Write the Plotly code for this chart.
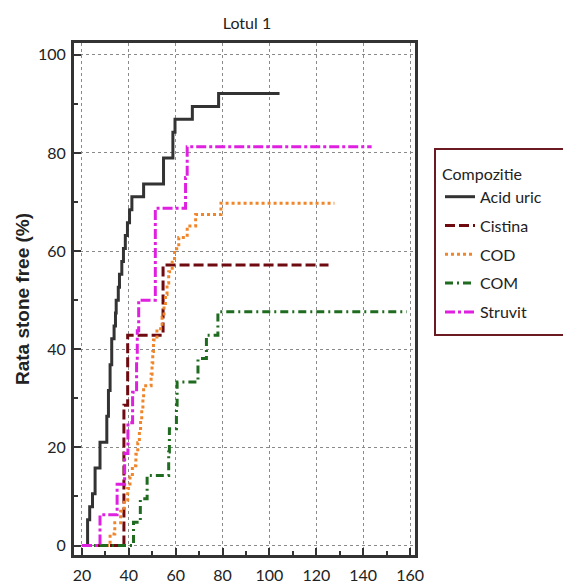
import plotly.graph_objects as go

# ---- data (time, cumulative stone-free rate %) ----
acid_uric_x = [20, 22.4, 23.3, 24.5, 25.6, 27.7, 30.6, 31.3, 32.0, 32.7, 33.7, 34.3, 34.6, 35.5, 36.0,
               37.0, 37.7, 38.5, 39.4, 40.3, 41.3, 46.3, 54.8, 58.8, 59.7, 67.1, 78.3, 104.3]
acid_uric_y = [0, 5.26, 7.89, 10.53, 15.79, 21.05, 26.32, 31.58, 36.84, 42.11, 44.74, 47.37, 50.0, 52.63, 55.26,
               57.89, 60.53, 63.16, 65.79, 68.42, 71.05, 73.68, 78.95, 84.21, 86.84, 89.47, 92.11, 92.11]

cistina_x = [20, 37.9, 39.5, 54.6, 125.2]
cistina_y = [0, 28.57, 42.86, 57.14, 57.14]

cod_x = [20, 32.0, 34.0, 36.5, 38.0, 39.5, 40.5, 41.5, 43.0, 43.8, 44.5, 45.0, 45.5, 46.0, 46.3,
         49.5, 49.9, 50.2, 50.5, 52.0, 54.2, 55.0, 55.6, 56.3, 57.0, 58.5, 59.5, 61.3, 64.9, 68.5, 79.3, 127.7]
cod_y = [0, 2.33, 4.65, 6.98, 9.30, 11.63, 13.95, 16.28, 18.60, 20.93, 23.26, 25.58, 27.91, 30.23, 32.56,
         34.88, 37.21, 39.53, 41.86, 44.19, 46.51, 48.84, 51.16, 53.49, 55.81, 58.14, 60.47, 62.79, 65.12, 67.44, 69.77, 69.77]

com_x = [20, 42.0, 44.9, 47.8, 57.0, 57.3, 60.3, 60.6, 69.5, 73.1, 78.0, 158.6]
com_y = [0, 4.76, 9.52, 14.29, 19.05, 23.81, 28.57, 33.33, 38.10, 42.86, 47.62, 47.62]

struvit_x = [20, 27.7, 35.0, 38.2, 39.6, 41.6, 43.3, 43.6, 44.2, 51.3, 64.2, 64.9, 143.6]
struvit_y = [0, 6.25, 12.5, 18.75, 25.0, 31.25, 37.5, 43.75, 50.0, 68.75, 75.0, 81.25, 81.25]

series = [
    ("Acid uric", acid_uric_x, acid_uric_y, "#333333", "solid"),
    ("Cistina", cistina_x, cistina_y, "#6e0a10", "10px,4px"),
    ("COD", cod_x, cod_y, "#f0852a", "dot"),
    ("COM", com_x, com_y, "#1f6b1f", "8px,4px,2px,4px"),
    ("Struvit", struvit_x, struvit_y, "#e020e0", "10px,3px,3px,3px"),
]

x_ticks = [20, 40, 60, 80, 100, 120, 140, 160]
y_ticks = [0, 20, 40, 60, 80, 100]

FONT = "Lato"

fig = go.Figure()
for i, (name, xs, ys, col, dash) in enumerate(series):
    fig.add_trace(go.Scatter(
        x=xs, y=ys, name=name, mode="lines", line_shape="hv",
        line=dict(color=col, width=3, dash=dash), legendgroup=name,
    ))

minor = dict(ticks="inside", ticklen=4, tickwidth=1.5, tickcolor="#333333", showgrid=False, dtick=10, tick0=0)
axis_common = dict(
    showline=True, linecolor="#333333", linewidth=3, mirror=True,
    ticks="inside", ticklen=7, tickwidth=2, tickcolor="#333333",
    showgrid=True, gridcolor="#8a8a8a", griddash="dot", gridwidth=1,
    zeroline=False, automargin=False,
    tickfont=dict(family=FONT, size=16, color="#222222"),
    minor=minor,
)

fig.update_xaxes(range=[16.6, 162.1], tickvals=x_ticks, ticklabelstandoff=4, **axis_common)
fig.update_yaxes(range=[-1.93, 102.4], tickvals=y_ticks, ticklabelstandoff=2,
                 title=dict(text="<b>Rata stone free (%)</b>",
                            font=dict(family="Liberation Sans", size=19, color="#222222"), standoff=4),
                 **axis_common)

# legend frame (extends to the page edge like the reference)
fig.add_shape(type="rect", xref="paper", yref="paper",
              x0=(435 - 74) / 341, x1=(566 - 74) / 341,
              y0=(555 - 335) / 512, y1=(555 - 149) / 512,
              line=dict(color="#6b1a22", width=2), fillcolor="rgba(0,0,0,0)", layer="above")

fig.update_layout(
    width=563, height=585,
    margin=dict(l=74, r=148, t=43, b=30),
    paper_bgcolor="white", plot_bgcolor="white",
    title=dict(text="Lotul 1", x=247 / 563, xanchor="center", y=1 - 23 / 585, yanchor="middle",
               font=dict(family=FONT, size=16, color="#222222")),
    showlegend=True,
    legend=dict(
        x=(440 - 74) / 341, xanchor="left", y=(555 - 159) / 512, yanchor="top",
        bgcolor="rgba(0,0,0,0)", borderwidth=0,
        title=dict(text="Compozitie", font=dict(family=FONT, size=16, color="#222222")),
        font=dict(family=FONT, size=16, color="#222222"),
        tracegroupgap=5,
    ),
)

fig.write_html("out.html", config={"displayModeBar": False},
               post_script="document.body.style.margin='0';document.body.style.overflow='hidden';")
